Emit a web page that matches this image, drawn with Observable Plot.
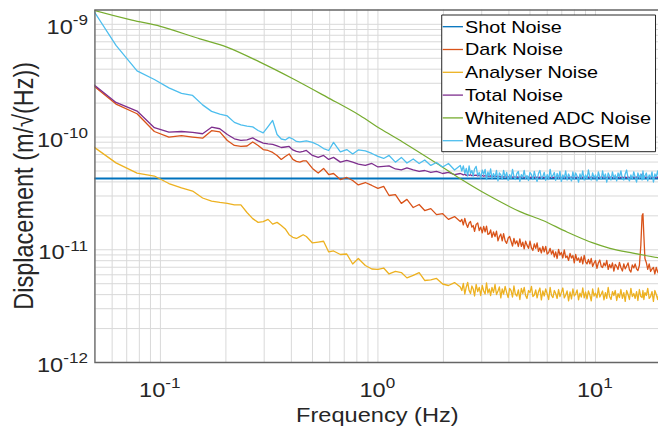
<!DOCTYPE html>
<html><head><meta charset="utf-8">
<script src="https://cdn.jsdelivr.net/npm/d3@7"></script>
<script src="https://cdn.jsdelivr.net/npm/@observablehq/plot@0.6"></script>
<style>
html,body{margin:0;padding:0;background:#fff;overflow:hidden;}
#chart{width:658px;height:430px;overflow:hidden;}
#chart svg path, #chart svg line, #chart svg rect{vector-effect:non-scaling-stroke;}
</style></head><body><div id="chart"></div>
<script>
// ---- data (frequency in Hz, displacement in m/sqrt(Hz)) ----
const freq = [
 // 0.047 - 0.47 Hz
 0.0469,0.0625,0.0781,0.0938,0.1094,0.125,0.1406,0.1563,0.1719,0.1875,
 0.2031,0.2188,0.2344,0.25,0.2656,0.2813,0.2969,0.3125,0.3281,0.3438,
 0.3594,0.375,0.3906,0.4063,0.4219,0.4375,0.4531,0.4688,
 // 0.5 - 2.4 Hz
 0.5,0.5313,0.5625,0.5938,0.625,0.6719,0.7188,0.7656,0.8125,0.875,
 0.9375,1.0,1.0625,1.125,1.2031,1.2813,1.3594,1.4531,1.5469,1.6406,
 1.75,1.8594,1.9844,2.1094,2.25,2.3906,
 // 2.4 - 20 Hz
 2.43,2.469,2.508,2.547,2.586,2.625,2.664,2.703,2.742,2.781,
 2.828,2.875,2.922,2.969,3.016,3.063,3.109,3.156,3.203,3.25,
 3.297,3.344,3.398,3.453,3.508,3.563,3.617,3.672,3.727,3.781,
 3.844,3.906,3.969,4.031,4.094,4.156,4.219,4.281,4.352,4.422,
 4.492,4.563,4.633,4.703,4.773,4.844,4.922,5.0,5.078,5.156,
 5.234,5.313,5.391,5.469,5.555,5.641,5.727,5.813,5.906,6.0,
 6.094,6.188,6.281,6.375,6.469,6.563,6.664,6.766,6.867,6.969,
 7.078,7.188,7.297,7.406,7.523,7.641,7.758,7.875,7.992,8.109,
 8.234,8.359,8.484,8.609,8.742,8.875,9.008,9.141,9.281,9.422,
 9.563,9.703,9.852,10.0,10.16,10.31,10.47,10.63,10.78,10.94,
 11.11,11.27,11.44,11.61,11.79,11.97,12.15,12.33,12.52,12.70,
 12.89,13.09,13.30,13.5,13.70,13.91,14.12,14.33,14.55,14.77,
 15.0,15.22,15.45,15.67,15.92,16.16,16.38,16.53,16.69,16.88,
 17.13,17.39,17.66,17.92,18.2,18.47,18.75,19.03,19.32,19.61,
 19.8,20.0
];
const shotFreq = [0.0469, 20];
const shotNoise = [4.28e-11, 4.28e-11];
const darkNoise = [
 3.08e-10,1.96e-10,1.61e-10,1.12e-10,9.98e-11,1.03e-10,1.00e-10,9.77e-11,1.14e-10,1.11e-10,
 9.33e-11,8.42e-11,8.25e-11,8.33e-11,9.05e-11,8.42e-11,7.75e-11,7.60e-11,7.30e-11,6.87e-11,
 6.33e-11,6.73e-11,7.08e-11,6.33e-11,6.08e-11,5.99e-11,6.14e-11,6.14e-11,
 5.27e-11,4.80e-11,5.27e-11,4.65e-11,4.75e-11,4.20e-11,4.38e-11,4.12e-11,3.76e-11,3.95e-11,
 3.72e-11,3.50e-11,3.65e-11,3.03e-11,3.09e-11,2.58e-11,2.80e-11,2.37e-11,2.52e-11,2.23e-11,
 2.32e-11,2.05e-11,2.09e-11,1.86e-11,1.97e-11,1.78e-11,
 1.86e-11,1.66e-11,1.90e-11,1.69e-11,1.58e-11,1.73e-11,1.78e-11,1.59e-11,1.64e-11,1.46e-11,
 1.68e-11,1.73e-11,1.48e-11,1.59e-11,1.41e-11,1.61e-11,1.44e-11,1.62e-11,1.37e-11,1.39e-11,
 1.50e-11,1.29e-11,1.44e-11,1.31e-11,1.46e-11,1.20e-11,1.31e-11,1.38e-11,1.20e-11,1.39e-11,
 1.20e-11,1.14e-11,1.27e-11,1.31e-11,1.19e-11,1.08e-11,1.26e-11,1.13e-11,1.20e-11,1.07e-11,
 1.25e-11,1.07e-11,1.17e-11,1.02e-11,1.19e-11,1.10e-11,1.03e-11,1.19e-11,1.04e-11,9.86e-12,
 1.13e-11,1.03e-11,1.15e-11,9.66e-12,1.04e-11,9.37e-12,1.07e-11,9.57e-12,1.07e-11,9.17e-12,
 9.47e-12,1.03e-11,9.17e-12,9.86e-12,8.63e-12,9.57e-12,8.37e-12,1.01e-11,8.99e-12,9.47e-12,
 8.46e-12,9.96e-12,8.54e-12,8.81e-12,8.04e-12,9.27e-12,8.46e-12,8.90e-12,7.64e-12,9.08e-12,
 8.04e-12,8.46e-12,7.72e-12,8.63e-12,7.49e-12,8.90e-12,7.80e-12,7.49e-12,8.20e-12,7.49e-12,
 8.37e-12,7.12e-12,7.64e-12,8.04e-12,6.83e-12,7.64e-12,8.12e-12,7.12e-12,6.97e-12,7.64e-12,
 7.19e-12,8.04e-12,6.69e-12,7.41e-12,6.90e-12,7.64e-12,6.48e-12,7.41e-12,7.12e-12,6.69e-12,
 7.72e-12,6.97e-12,6.48e-12,7.49e-12,6.76e-12,7.19e-12,7.64e-12,6.62e-12,6.35e-12,7.33e-12,
 6.90e-12,7.49e-12,6.76e-12,6.55e-12,7.26e-12,1.09e-11,2.01e-11,2.09e-11,1.34e-11,8.37e-12,
 7.72e-12,6.69e-12,7.49e-12,6.42e-12,6.76e-12,6.97e-12,6.10e-12,6.97e-12,6.35e-12,6.04e-12,
 6.69e-12,6.29e-12
];
const analyserNoise = [
 8.78e-11,5.90e-11,4.78e-11,4.51e-11,3.87e-11,3.54e-11,3.32e-11,2.88e-11,2.70e-11,2.63e-11,
 2.58e-11,2.50e-11,2.50e-11,2.14e-11,1.89e-11,1.75e-11,1.78e-11,1.86e-11,1.69e-11,1.75e-11,
 1.64e-11,1.53e-11,1.36e-11,1.29e-11,1.26e-11,1.31e-11,1.36e-11,1.31e-11,
 1.15e-11,1.17e-11,1.19e-11,9.57e-12,9.76e-12,9.08e-12,9.17e-12,7.48e-12,8.37e-12,7.26e-12,
 6.75e-12,6.69e-12,6.89e-12,6.10e-12,6.42e-12,6.28e-12,5.63e-12,5.92e-12,6.28e-12,5.34e-12,
 5.40e-12,5.57e-12,4.97e-12,4.82e-12,5.12e-12,4.68e-12,
 4.35e-12,5.03e-12,4.05e-12,4.68e-12,5.13e-12,4.35e-12,4.09e-12,4.77e-12,4.49e-12,3.89e-12,
 4.92e-12,4.26e-12,4.63e-12,3.93e-12,4.82e-12,4.31e-12,4.05e-12,5.08e-12,4.13e-12,4.49e-12,
 3.93e-12,4.63e-12,4.17e-12,4.92e-12,4.01e-12,4.31e-12,4.68e-12,3.74e-12,4.49e-12,4.05e-12,
 4.73e-12,4.17e-12,3.77e-12,4.54e-12,4.35e-12,3.81e-12,4.77e-12,4.05e-12,3.89e-12,4.40e-12,
 3.62e-12,4.54e-12,4.09e-12,4.63e-12,3.93e-12,3.70e-12,4.35e-12,4.17e-12,4.73e-12,3.85e-12,
 3.97e-12,4.40e-12,3.74e-12,4.22e-12,4.58e-12,3.59e-12,4.31e-12,3.89e-12,4.49e-12,4.05e-12,
 3.62e-12,4.63e-12,3.93e-12,3.77e-12,4.35e-12,4.09e-12,3.70e-12,4.44e-12,3.85e-12,4.17e-12,
 4.58e-12,3.74e-12,3.97e-12,4.31e-12,3.52e-12,4.22e-12,3.66e-12,4.49e-12,3.89e-12,4.05e-12,
 4.40e-12,3.59e-12,4.13e-12,3.81e-12,4.58e-12,3.74e-12,4.22e-12,3.66e-12,4.31e-12,3.97e-12,
 3.52e-12,4.49e-12,3.89e-12,4.13e-12,3.74e-12,4.58e-12,3.81e-12,4.05e-12,4.31e-12,3.59e-12,
 4.17e-12,3.70e-12,4.63e-12,3.85e-12,3.62e-12,4.26e-12,3.93e-12,4.35e-12,3.55e-12,4.09e-12,
 3.77e-12,4.44e-12,3.70e-12,4.17e-12,3.48e-12,4.35e-12,4.01e-12,3.62e-12,4.54e-12,3.85e-12,
 4.09e-12,3.70e-12,4.26e-12,3.55e-12,4.44e-12,3.85e-12,3.77e-12,4.35e-12,3.62e-12,4.17e-12,
 3.93e-12,4.54e-12,3.70e-12,3.85e-12,4.26e-12,3.48e-12,4.35e-12,4.01e-12,3.62e-12,4.17e-12,
 3.77e-12,4.44e-12
];
const totalNoise = [
 3.15e-10,2.03e-10,1.70e-10,1.21e-10,1.105e-10,1.12e-10,1.10e-10,1.07e-10,1.224e-10,1.185e-10,
 1.054e-10,9.65e-11,9.33e-11,9.43e-11,9.82e-11,9.24e-11,8.83e-11,8.69e-11,8.60e-11,8.34e-11,
 8.08e-11,8.16e-11,8.25e-11,7.68e-11,7.45e-11,7.35e-11,7.45e-11,7.60e-11,
 6.87e-11,6.60e-11,6.87e-11,6.33e-11,6.60e-11,5.99e-11,6.20e-11,5.99e-11,5.75e-11,5.60e-11,
 5.83e-11,5.43e-11,5.49e-11,5.55e-11,5.21e-11,5.11e-11,5.32e-11,5.11e-11,4.95e-11,5.05e-11,
 4.85e-11,4.95e-11,4.75e-11,4.85e-11,4.65e-11,4.75e-11,
 4.70e-11,4.61e-11,4.68e-11,4.56e-11,4.65e-11,4.58e-11,4.63e-11,4.54e-11,4.61e-11,4.56e-11,
 4.60e-11,4.52e-11,4.58e-11,4.51e-11,4.56e-11,4.49e-11,4.55e-11,4.50e-11,4.53e-11,4.47e-11,
 4.52e-11,4.46e-11,4.51e-11,4.45e-11,4.50e-11,4.44e-11,4.49e-11,4.43e-11,4.48e-11,4.42e-11,
 4.47e-11,4.41e-11,4.46e-11,4.40e-11,4.45e-11,4.40e-11,4.44e-11,4.39e-11,4.44e-11,4.38e-11,
 4.43e-11,4.38e-11,4.43e-11,4.37e-11,4.42e-11,4.37e-11,4.42e-11,4.36e-11,4.42e-11,4.37e-11,
 4.41e-11,4.36e-11,4.42e-11,4.37e-11,4.41e-11,4.36e-11,4.42e-11,4.37e-11,4.41e-11,4.36e-11,
 4.42e-11,4.37e-11,4.41e-11,4.36e-11,4.42e-11,4.37e-11,4.41e-11,4.36e-11,4.42e-11,4.37e-11,
 4.41e-11,4.36e-11,4.42e-11,4.37e-11,4.41e-11,4.36e-11,4.42e-11,4.37e-11,4.41e-11,4.36e-11,
 4.41e-11,4.36e-11,4.42e-11,4.37e-11,4.41e-11,4.36e-11,4.42e-11,4.37e-11,4.41e-11,4.36e-11,
 4.41e-11,4.36e-11,4.42e-11,4.37e-11,4.41e-11,4.36e-11,4.42e-11,4.37e-11,4.41e-11,4.36e-11,
 4.41e-11,4.36e-11,4.42e-11,4.37e-11,4.41e-11,4.36e-11,4.42e-11,4.37e-11,4.41e-11,4.36e-11,
 4.41e-11,4.36e-11,4.42e-11,4.37e-11,4.41e-11,4.36e-11,4.42e-11,4.37e-11,4.41e-11,4.36e-11,
 4.41e-11,4.36e-11,4.42e-11,4.37e-11,4.41e-11,4.45e-11,4.68e-11,4.75e-11,4.45e-11,4.38e-11,
 4.42e-11,4.36e-11,4.41e-11,4.37e-11,4.42e-11,4.36e-11,4.41e-11,4.37e-11,4.42e-11,4.36e-11,
 4.41e-11,4.38e-11
];
const adcFreq = [0.0469,0.0494,0.0740,0.1,0.1519,0.2021,0.2868,0.4067,0.5827,0.8264,1.021,
 1.303,1.867,2.383,3.171,4.497,5.737,7.396,9.739,11.66,14.87,19.39,20];
const adcNoise = [1.37e-9,1.33e-9,1.09e-9,9.59e-10,7.42e-10,6.28e-10,4.62e-10,3.29e-10,2.26e-10,1.555e-10,1.19e-10,
 9.01e-11,5.83e-11,4.29e-11,3.09e-11,2.18e-11,1.82e-11,1.44e-11,1.15e-11,1.03e-11,9.34e-12,8.50e-12,8.45e-12];
const measuredBosem = [
 1.53e-9,6.50e-10,3.86e-10,3.24e-10,2.73e-10,2.44e-10,2.34e-10,1.93e-10,1.69e-10,1.60e-10,
 1.54e-10,1.35e-10,1.28e-10,1.25e-10,1.23e-10,1.144e-10,1.09e-10,1.24e-10,1.404e-10,1.054e-10,
 9.61e-11,9.43e-11,9.93e-11,9.61e-11,9.14e-11,9.05e-11,9.14e-11,9.24e-11,
 8.96e-11,8.50e-11,7.91e-11,7.60e-11,8.96e-11,7.38e-11,7.75e-11,7.08e-11,7.68e-11,7.53e-11,
 7.15e-11,6.73e-11,6.46e-11,6.87e-11,5.99e-11,6.60e-11,5.89e-11,6.39e-11,5.83e-11,6.26e-11,
 5.60e-11,5.95e-11,5.43e-11,5.83e-11,5.10e-11,5.60e-11,
 5.00e-11,5.55e-11,4.75e-11,5.27e-11,4.51e-11,5.55e-11,4.75e-11,5.05e-11,4.51e-11,5.21e-11,
 5.49e-11,4.56e-11,4.85e-11,4.33e-11,5.10e-11,4.65e-11,5.16e-11,4.20e-11,4.90e-11,4.51e-11,
 5.21e-11,4.29e-11,4.75e-11,4.38e-11,5.05e-11,4.08e-11,4.80e-11,4.61e-11,4.24e-11,5.05e-11,
 4.38e-11,4.85e-11,4.12e-11,4.65e-11,4.29e-11,5.16e-11,4.47e-11,4.20e-11,4.75e-11,4.95e-11,
 4.04e-11,4.65e-11,4.38e-11,5.05e-11,4.29e-11,4.56e-11,4.12e-11,4.85e-11,4.65e-11,4.20e-11,
 4.95e-11,4.38e-11,4.04e-11,4.75e-11,5.05e-11,4.29e-11,4.47e-11,4.85e-11,4.12e-11,4.65e-11,
 4.20e-11,5.16e-11,4.38e-11,4.56e-11,4.85e-11,4.12e-11,4.75e-11,4.29e-11,4.95e-11,4.04e-11,
 4.61e-11,4.33e-11,5.00e-11,4.16e-11,4.70e-11,4.42e-11,4.08e-11,4.90e-11,4.24e-11,4.80e-11,
 4.51e-11,3.99e-11,4.70e-11,4.33e-11,5.00e-11,4.16e-11,4.61e-11,4.24e-11,5.10e-11,4.42e-11,
 4.16e-11,4.80e-11,4.33e-11,4.61e-11,4.08e-11,4.90e-11,4.42e-11,4.24e-11,5.00e-11,4.33e-11,
 4.70e-11,3.99e-11,4.80e-11,4.51e-11,4.16e-11,4.90e-11,4.33e-11,4.61e-11,4.08e-11,4.80e-11,
 4.42e-11,5.00e-11,4.24e-11,4.16e-11,4.70e-11,5.10e-11,4.33e-11,4.08e-11,4.61e-11,4.24e-11,
 4.90e-11,4.42e-11,3.99e-11,4.80e-11,4.33e-11,4.70e-11,4.16e-11,5.00e-11,4.24e-11,4.51e-11,
 4.80e-11,4.08e-11,4.61e-11,4.33e-11,4.90e-11,3.99e-11,4.70e-11,4.42e-11,5.00e-11,4.24e-11,
 4.16e-11,4.70e-11
];
const seriesNames = ["Shot Noise","Dark Noise","Analyser Noise","Total Noise","Whitened ADC Noise","Measured BOSEM"];
const seriesColors = ["#0072BD","#D95319","#EDB120","#7E2F8E","#77AC30","#4DBEEE"];
const xGrid = [0.05,0.06,0.07,0.08,0.09,0.1,0.2,0.3,0.4,0.5,0.6,0.7,0.8,0.9,1,2,3,4,5,6,7,8,9,10,20];
const yGrid = [1e-12,2e-12,3e-12,4e-12,5e-12,6e-12,7e-12,8e-12,9e-12,
 1e-11,2e-11,3e-11,4e-11,5e-11,6e-11,7e-11,8e-11,9e-11,
 1e-10,2e-10,3e-10,4e-10,5e-10,6e-10,7e-10,8e-10,9e-10,1e-9];
const xTickValues = [0.1, 1, 10];
const xTickLabels = ["10^-1","10^0","10^1"];
const yTickValues = [1e-12, 1e-11, 1e-10, 1e-9];
const yTickLabels = ["10^-12","10^-11","10^-10","10^-9"];
const xDomain = [0.05, 20];
const yDomain = [1e-12, 1.34e-9];
const xLabel = "Frequency (Hz)";
const yLabel = "Displacement (m/\u221A(Hz))";

// ---- layout: figure drawn at 558x430 and stretched horizontally to 658x430 ----
const W = 558, H = 430, OUTW = 658;
const ML = 80, MR = -2, MT = 9.5, MB = 68;
const FONT = "'Liberation Sans', Arial, Helvetica, sans-serif";
const INK = "#262626";

const rows = (fs, vs) => fs.map((f, i) => ({f, v: vs[i]}));
const seriesData = [
  rows(shotFreq, shotNoise),
  rows(freq, darkNoise),
  rows(freq, analyserNoise),
  rows(freq, totalNoise),
  rows(adcFreq, adcNoise),
  rows(freq, measuredBosem)
];
const widths = [2, 1.3, 1.3, 1.3, 1.2, 1.3];

const svg = Plot.plot({
  width: W, height: H,
  marginLeft: ML, marginRight: MR, marginTop: MT, marginBottom: MB,
  style: {fontFamily: FONT, background: "white", overflow: "hidden"},
  x: {type: "log", domain: xDomain, axis: null},
  y: {type: "log", domain: yDomain, axis: null},
  marks: [
    Plot.ruleX(xGrid, {stroke: "#d9d9d9", strokeWidth: 1}),
    Plot.ruleY(yGrid, {stroke: "#d9d9d9", strokeWidth: 1}),
    ...seriesData.map((d, i) => Plot.line(d, {
      x: "f", y: "v", stroke: seriesColors[i], strokeWidth: widths[i], clip: true,
      curve: i === 4 ? "catmull-rom" : "linear"
    })),
    Plot.frame({stroke: "#666", strokeWidth: 1.3})
  ]
});

svg.setAttribute("preserveAspectRatio", "none");
svg.setAttribute("width", OUTW);
svg.setAttribute("height", H);
svg.style.width = OUTW + "px";
svg.style.height = H + "px";
svg.style.maxWidth = "none";
document.getElementById("chart").appendChild(svg);

const xs = svg.scale("x"), ys = svg.scale("y");
const root = d3.select(svg);
const lab = root.append("g").attr("font-family", FONT).attr("fill", INK);

function supText(label) {
  const [base, exp] = label.split("^");
  const t = lab.append("text").attr("text-anchor", "start").attr("font-size", 20);
  t.append("tspan").text(base);
  t.append("tspan").attr("dy", -8.5).attr("font-size", 14.5).text(exp);
  return t;
}
// x tick labels, centred under their grid lines
xTickValues.forEach((v, i) => {
  const t = supText(xTickLabels[i]).attr("y", H - MB + 35);
  const w = t.node().getComputedTextLength();
  t.attr("x", xs.apply(v) - w / 2);
});
// y tick labels, right-aligned left of the axis
yTickValues.forEach((v, i) => {
  const t = supText(yTickLabels[i]).attr("y", ys.apply(v) + 10);
  const w = t.node().getComputedTextLength();
  t.attr("x", ML - 5.4 - w);
});
// axis titles
lab.append("text").attr("text-anchor", "middle").attr("font-size", 20)
  .attr("x", (ML + W - MR) / 2).attr("y", 422.5).text(xLabel);
lab.append("text").attr("text-anchor", "middle").attr("font-size", 23.5)
  .attr("transform", `translate(28.3,${(MT + H - MB) / 2}) rotate(-90)`).text(yLabel);

// legend (box in the upper right of the axes)
const lg = root.append("g").attr("font-family", FONT).attr("font-size", 16.8);
lg.append("rect").attr("x", 374.6).attr("y", 15).attr("width", 181.3).attr("height", 136.7)
  .attr("fill", "white").attr("stroke", INK).attr("stroke-width", 1);
seriesNames.forEach((name, i) => {
  const y = 26.7 + i * 22.8;
  lg.append("line").attr("x1", 375.4).attr("x2", 392.6).attr("y1", y).attr("y2", y)
    .attr("stroke", seriesColors[i]).attr("stroke-width", 1.3);
  lg.append("text").attr("text-anchor", "start").attr("x", 394.3).attr("y", y + 6)
    .attr("fill", "#000").text(name);
});
</script></body></html>
